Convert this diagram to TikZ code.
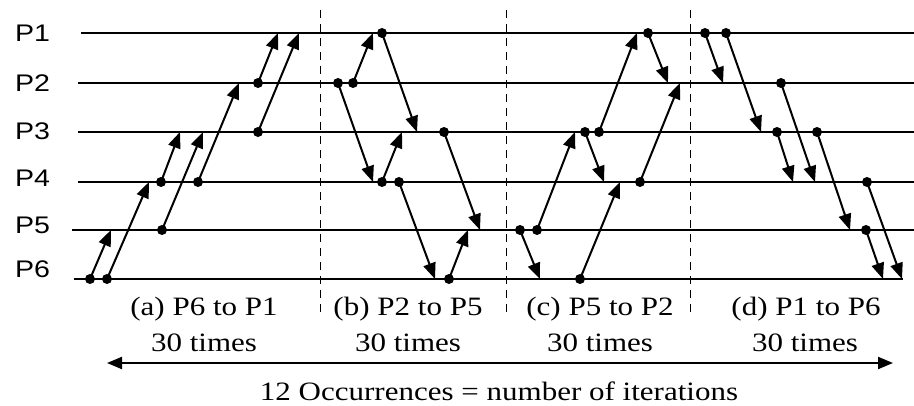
\documentclass[tikz,border=0pt]{standalone}
\usepackage{fontspec}
\usepackage{graphicx}
\setmainfont{Liberation Serif}
\newfontfamily\arialfont{Liberation Sans}
\usetikzlibrary{arrows.meta}
\newcommand{\plab}[1]{\scalebox{1.19}[1]{\fontsize{24}{26}\selectfont\arialfont #1}}
\newcommand{\blab}[1]{\scalebox{1.17}[1]{\fontsize{26.5}{28}\selectfont #1}}
\tikzset{
  proc/.style={line width=2pt},
  msg/.style={line width=2pt,-{Triangle[length=16pt,width=12.5pt]}},
  dot/.style={circle,fill=black,inner sep=0pt,minimum size=10pt},
  sep/.style={line width=1.4pt,dash pattern=on 8pt off 6pt},
  lab/.style={anchor=base,inner sep=0pt},
  span/.style={line width=2pt,{Triangle[length=15pt,width=12pt]}-{Triangle[length=15pt,width=12pt]}}
}
\begin{document}
\begin{tikzpicture}[x=1pt,y=-1pt]
\useasboundingbox (0,0) rectangle (914,406);
% process labels
\node[anchor=base west,inner sep=0pt] (p1) at (15,42) {\plab{P1}};
\node[anchor=base west,inner sep=0pt] (p2) at (15,92) {\plab{P2}};
\node[anchor=base west,inner sep=0pt] (p3) at (15,140) {\plab{P3}};
\node[anchor=base west,inner sep=0pt] (p4) at (15,187) {\plab{P4}};
\node[anchor=base west,inner sep=0pt] (p5) at (15,234) {\plab{P5}};
\node[anchor=base west,inner sep=0pt] (p6) at (15,278) {\plab{P6}};
% process lines
\coordinate (s1) at (81,33);  \coordinate (e1) at (914,33);
\coordinate (s2) at (78,83);  \coordinate (e2) at (914,83);
\coordinate (s3) at (78,132); \coordinate (e3) at (914,132);
\coordinate (s4) at (78,182); \coordinate (e4) at (914,182);
\coordinate (s5) at (72,230); \coordinate (e5) at (914,230);
\coordinate (s6) at (74,279); \coordinate (e6) at (903,279);
\foreach \i in {1,...,6} \draw[proc] (s\i) -- (e\i);
% separators
\coordinate (u1) at (320.5,10); \coordinate (v1) at (320.5,312);
\coordinate (u2) at (506.7,10); \coordinate (v2) at (506.7,312);
\coordinate (u3) at (690.7,10); \coordinate (v3) at (690.7,312);
\foreach \i in {1,2,3} \draw[sep] (u\i) -- (v\i);
% (a) dots
\node[dot] (a1) at (90,279) {};
\node[dot] (a2) at (107,279) {};
\node[dot] (a3) at (162,230) {};
\node[dot] (a4) at (161,182) {};
\node[dot] (a5) at (198,182) {};
\node[dot] (a6) at (258,132) {};
\node[dot] (a7) at (258,83) {};
\coordinate (ta1) at (111,230);
\coordinate (ta2) at (149,182);
\coordinate (ta3) at (180,132);
\coordinate (ta4) at (203,132);
\coordinate (ta5) at (239,83);
\coordinate (ta6) at (278,33);
\coordinate (ta7) at (299,33);
\draw[msg] (a1.center) -- (ta1);
\draw[msg] (a2.center) -- (ta2);
\draw[msg] (a4.center) -- (ta3);
\draw[msg] (a3.center) -- (ta4);
\draw[msg] (a5.center) -- (ta5);
\draw[msg] (a7.center) -- (ta6);
\draw[msg] (a6.center) -- (ta7);
% (b)
\node[dot] (b1) at (338,83) {};
\node[dot] (b2) at (353,83) {};
\node[dot] (b3) at (382,33) {};
\node[dot] (b4) at (382,182) {};
\node[dot] (b5) at (399,182) {};
\node[dot] (b6) at (444,132) {};
\node[dot] (b7) at (449,279) {};
\coordinate (tb1) at (373,182);
\coordinate (tb2) at (373,33);
\coordinate (tb3) at (417,132);
\coordinate (tb4) at (402,132);
\coordinate (tb5) at (435,279);
\coordinate (tb6) at (480,230);
\coordinate (tb7) at (468,230);
\draw[msg] (b1.center) -- (tb1);
\draw[msg] (b2.center) -- (tb2);
\draw[msg] (b3.center) -- (tb3);
\draw[msg] (b4.center) -- (tb4);
\draw[msg] (b5.center) -- (tb5);
\draw[msg] (b6.center) -- (tb6);
\draw[msg] (b7.center) -- (tb7);
% (c)
\node[dot] (c1) at (520,230) {};
\node[dot] (c2) at (537,230) {};
\node[dot] (c3) at (585,132) {};
\node[dot] (c4) at (599,132) {};
\node[dot] (c5) at (580,279) {};
\node[dot] (c6) at (640,182) {};
\node[dot] (c7) at (648,33) {};
\coordinate (tc1) at (540,279);
\coordinate (tc2) at (575,132);
\coordinate (tc3) at (604,182);
\coordinate (tc4) at (637,33);
\coordinate (tc5) at (620,182);
\coordinate (tc6) at (680,83);
\coordinate (tc7) at (668,83);
\draw[msg] (c1.center) -- (tc1);
\draw[msg] (c2.center) -- (tc2);
\draw[msg] (c3.center) -- (tc3);
\draw[msg] (c4.center) -- (tc4);
\draw[msg] (c5.center) -- (tc5);
\draw[msg] (c6.center) -- (tc6);
\draw[msg] (c7.center) -- (tc7);
% (d)
\node[dot] (d1) at (705,33) {};
\node[dot] (d2) at (726,33) {};
\node[dot] (d3) at (781,83) {};
\node[dot] (d4) at (777,132) {};
\node[dot] (d5) at (817,132) {};
\node[dot] (d6) at (867,182) {};
\node[dot] (d7) at (866,230) {};
\coordinate (td1) at (723,83);
\coordinate (td2) at (761,132);
\coordinate (td3) at (815,182);
\coordinate (td4) at (793,182);
\coordinate (td5) at (850,230);
\coordinate (td6) at (902,279);
\coordinate (td7) at (883,279);
\draw[msg] (d1.center) -- (td1);
\draw[msg] (d2.center) -- (td2);
\draw[msg] (d3.center) -- (td3);
\draw[msg] (d4.center) -- (td4);
\draw[msg] (d5.center) -- (td5);
\draw[msg] (d6.center) -- (td6);
\draw[msg] (d7.center) -- (td7);
% captions
\node[lab] (la) at (204,316) {\blab{(a) P6 to P1}};
\node[lab] (lb) at (408,316) {\blab{(b) P2 to P5}};
\node[lab] (lc) at (600,316) {\blab{(c) P5 to P2}};
\node[lab] (ld) at (806,316) {\blab{(d) P1 to P6}};
\node[lab] (na) at (204,352) {\blab{30 times}};
\node[lab] (nb) at (408,352) {\blab{30 times}};
\node[lab] (nc) at (600,352) {\blab{30 times}};
\node[lab] (nd) at (805,352) {\blab{30 times}};
\coordinate (arrL) at (107,363);
\coordinate (arrR) at (893,363);
\draw[span] (arrL) -- (arrR);
\node[lab] (occ) at (499,400) {\blab{12 Occurrences = number of iterations}};
\end{tikzpicture}
\end{document}
